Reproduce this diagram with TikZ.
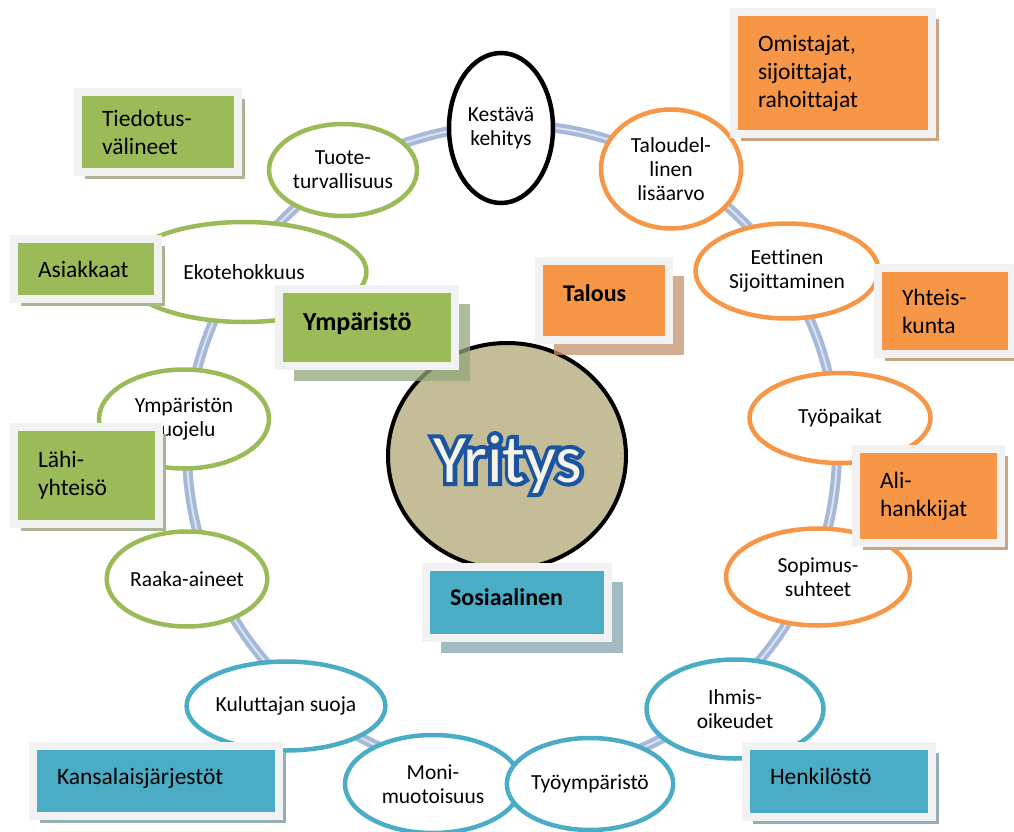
\documentclass[tikz,border=0pt]{standalone}
\usepackage{fontspec}
\setmainfont{Carlito}[Ligatures=NoCommon]
\newfontface\yroutline{Carlito}[FakeBold=12]
\usetikzlibrary{shapes.geometric,shadows}

\definecolor{ymgreen}{HTML}{9BBB59}
\definecolor{taorange}{HTML}{F79646}
\definecolor{soblue}{HTML}{4BACC6}
\definecolor{framegray}{HTML}{F2F2F2}
\definecolor{greenshade}{HTML}{A9B594}
\definecolor{orangeshade}{HTML}{C9A485}
\definecolor{blueshade}{HTML}{97ADB8}
\definecolor{greencat}{HTML}{93A57A}
\definecolor{orangecat}{HTML}{C4926C}
\definecolor{bluecat}{HTML}{86A3AD}
\definecolor{ringblue}{HTML}{A6B9DA}
\definecolor{yrfill}{HTML}{C4BD97}
\definecolor{yrblue}{HTML}{1B54A0}
\definecolor{yrcream}{HTML}{F6F3E8}

\tikzset{
  oval/.style={ellipse, draw=#1, line width=4.5pt, fill=white, inner sep=0pt,
    align=center, font=\fontsize{21.5}{24}\selectfont},
  sbox/.style={rectangle, fill=#1, draw=framegray, line width=8pt,
    inner xsep=24pt, inner ysep=0pt, align=left,
    font=\fontsize{23.5}{28}\selectfont},
  greenbox/.style={sbox=ymgreen, drop shadow={shadow xshift=7pt, shadow yshift=-7pt, fill=greenshade, opacity=1}},
  orangebox/.style={sbox=taorange, drop shadow={shadow xshift=7pt, shadow yshift=-7pt, fill=orangeshade, opacity=1}},
  bluebox/.style={sbox=soblue, drop shadow={shadow xshift=7pt, shadow yshift=-7pt, fill=blueshade, opacity=1}},
  catbox/.style 2 args={sbox=#1, font=\fontsize{24}{28}\selectfont\bfseries,
    drop shadow={shadow xshift=15pt, shadow yshift=-15pt, fill=#2, opacity=.75}},
  yrtext/.style={anchor=base, inner sep=0pt, font=\fontsize{68}{80}\selectfont}
}

\begin{document}
\begin{tikzpicture}[x=1pt,y=-1pt]

  \useasboundingbox (0,0) rectangle (1014,832);

  % ring
  \coordinate (ringc) at (512,450);
  \draw[ringblue, line width=10pt] (ringc) circle [radius=325];
  \draw[white, line width=2pt, opacity=.6] (ringc) circle [radius=325];

  % environment
  \node[oval=ymgreen, minimum width=148pt, minimum height=92pt] (tuote) at (343,170) {Tuote-\\turvallisuus};
  \node[oval=ymgreen, minimum width=245pt, minimum height=100pt] (eko) at (244,272) {Ekotehokkuus};
  \node[oval=ymgreen, minimum width=170pt, minimum height=99pt] (suojelu) at (184,419) {Ympäristön\\suojelu};
  \node[oval=ymgreen, minimum width=160pt, minimum height=95pt] (raaka) at (187,579) {Raaka-aineet};

  % social
  \node[oval=soblue, minimum width=192pt, minimum height=89pt] (kuluttaja) at (286,706) {Kuluttajan suoja};
  \node[oval=soblue, minimum width=176pt, minimum height=98pt] (moni) at (433,784) {Moni-\\muotoisuus};
  \node[oval=soblue, minimum width=177pt, minimum height=99pt] (ihmis) at (735,709) {Ihmis-\\oikeudet};
  \node[oval=soblue, minimum width=155pt, minimum height=92pt] (tyoymp) at (590,784) {Työympäristö};

  % economy
  \node[oval=taorange, minimum width=140pt, minimum height=119pt] (lisaarvo) at (671,169) {Taloudel-\\linen\\lisäarvo};
  \node[oval=taorange, minimum width=183pt, minimum height=95pt] (eettinen) at (787,271) {Eettinen\\Sijoittaminen};
  \node[oval=taorange, minimum width=181pt, minimum height=90pt] (tyopaikat) at (840,418) {Työpaikat};
  \node[oval=taorange, minimum width=184pt, minimum height=97pt] (sopimus) at (818,577) {Sopimus-\\suhteet};

  \node[oval=black, minimum width=104pt, minimum height=150pt] (kestava) at (501,128) {Kestävä\\kehitys};

  % centre
  \node[oval=black, fill=yrfill, line width=4pt, minimum width=238pt, minimum height=226pt] (yritys) at (507,456) {};
  \coordinate (ytbase) at (508,482);
  \node[yrtext, text=yrblue, font=\fontsize{68}{80}\yroutline] (yrline) at (ytbase) {Yritys};
  \node[yrtext, text=yrcream] (yrtext) at (ytbase) {Yritys};

  % categories
  \node[catbox={ymgreen}{greencat}, font=\fontsize{26}{28}\selectfont\bfseries, text width=128pt, minimum height=77pt, text depth=12pt] (ymparisto) at (367,327.5) {Ympäristö};
  \node[catbox={taorange}{orangecat}, text width=82pt, minimum height=79pt, text depth=14pt] (talous) at (604,300.5) {Talous};
  \node[catbox={soblue}{bluecat}, text width=134pt, minimum height=71pt, text depth=11pt] (sosiaalinen) at (517,602.5) {Sosiaalinen};

  % stakeholders
  \node[greenbox, text width=112pt, minimum height=80pt] (tiedotus) at (158,132) {Tiedotus-\\välineet};
  \node[greenbox, text width=96pt, minimum height=60pt] (asiakkaat) at (86,269) {Asiakkaat};
  \node[greenbox, text width=97pt, minimum height=97pt] (lahi) at (86.5,475.5) {Lähi-\\yhteisö};
  \node[bluebox, text width=198pt, minimum height=70pt, text depth=10pt] (kansalais) at (156,781) {Kansalaisjärjestöt};
  \node[bluebox, text width=138pt, minimum height=71pt, text depth=10pt] (henkilosto) at (839,781.5) {Henkilöstö};
  \node[orangebox, text width=150pt, minimum height=122pt] (omistajat) at (833,73) {Omistajat,\\sijoittajat,\\rahoittajat};
  \node[orangebox, text width=86pt, minimum height=86pt] (yhteiskunta) at (945,311) {Yhteis-\\kunta};
  \node[orangebox, text width=97pt, minimum height=94pt] (alihankkijat) at (928.5,496) {Ali-\\hankkijat};

\end{tikzpicture}
\end{document}
